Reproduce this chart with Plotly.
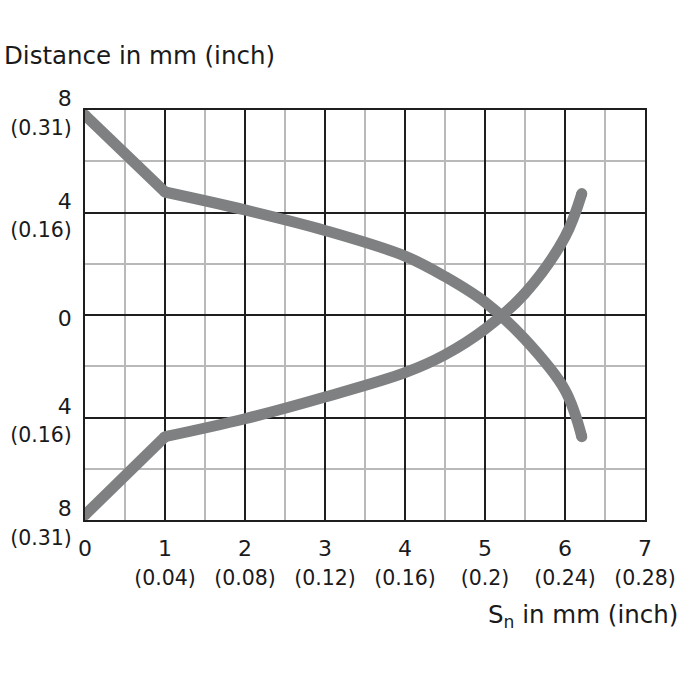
import plotly.graph_objects as go

# Data
sn_upper = [0, 1, 2, 3, 4, 4.5, 5, 5.5, 6, 6.21]
dist_upper = [7.8, 4.8, 4.1, 3.3, 2.3, 1.5, 0.5, -0.95, -2.93, -4.75]
sn_lower = [0, 1, 2, 3, 4, 4.5, 5, 5.5, 6, 6.21]
dist_lower = [-7.8, -4.75, -4.05, -3.2, -2.25, -1.55, -0.55, 0.85, 3.05, 4.74]

x_tick_vals = [0, 1, 2, 3, 4, 5, 6, 7]
x_tick_mm = ["0", "1", "2", "3", "4", "5", "6", "7"]
x_tick_inch = ["", "(0.04)", "(0.08)", "(0.12)", "(0.16)", "(0.2)", "(0.24)", "(0.28)"]
y_tick_vals = [8, 4, 0, -4, -8]
y_tick_mm = ["8", "4", "0", "4", "8"]
y_tick_inch = ["(0.31)", "(0.16)", "", "(0.16)", "(0.31)"]

FONT = "DejaVu Sans"
CURVE = "#7f8082"
TEXT = "#1a1a1a"


def label(mm, inch):
    if inch:
        return f"{mm}<br><span style='font-size:20.5px'>{inch}</span>"
    return mm


fig = go.Figure()
for xs, ys in [(sn_upper, dist_upper), (sn_lower, dist_lower)]:
    # straight first segment (sharp kink at x=1), smooth curve afterwards
    fig.add_trace(go.Scatter(x=xs[:2], y=ys[:2], mode="lines",
                             line=dict(color=CURVE, width=11),
                             hoverinfo="skip", showlegend=False))
    fig.add_trace(go.Scatter(x=xs[1:], y=ys[1:], mode="lines",
                             line=dict(color=CURVE, width=11, shape="spline", smoothing=1),
                             hoverinfo="skip", showlegend=False))
    fig.add_trace(go.Scatter(x=[xs[0], xs[1], xs[-1]], y=[ys[0], ys[1], ys[-1]], mode="markers",
                             marker=dict(color=CURVE, size=11, line=dict(width=0)),
                             hoverinfo="skip", showlegend=False))

fig.update_xaxes(
    range=[0, 7], tickmode="array", tickvals=x_tick_vals,
    ticktext=[label(a, b) for a, b in zip(x_tick_mm, x_tick_inch)],
    showgrid=True, gridcolor="#1e1e1e", gridwidth=1.6,
    minor=dict(dtick=0.5, showgrid=True, gridcolor="#b9b9b9", gridwidth=2),
    showline=True, mirror=True, linecolor="#1e1e1e", linewidth=1.6,
    zeroline=False, ticks="", ticklabelstandoff=8, automargin=False,
    tickfont=dict(family=FONT, size=22, color=TEXT),
)
fig.update_yaxes(
    range=[-8, 8], tickmode="array", tickvals=y_tick_vals,
    ticktext=[label(a, b) for a, b in zip(y_tick_mm, y_tick_inch)],
    showgrid=True, gridcolor="#1e1e1e", gridwidth=1.6,
    minor=dict(dtick=2, showgrid=True, gridcolor="#b9b9b9", gridwidth=2),
    showline=True, mirror=True, linecolor="#1e1e1e", linewidth=1.6,
    zeroline=False, ticks="", ticklabelstandoff=7, ticklabelshift=3, automargin=False,
    tickfont=dict(family=FONT, size=22, color=TEXT),
)

fig.add_annotation(text="Distance in mm (inch)", xref="paper", yref="paper",
                   x=(2 - 85) / 560, y=(520 - 55) / 410, xanchor="left", yanchor="middle",
                   showarrow=False, font=dict(family=FONT, size=24.5, color=TEXT))
fig.add_annotation(text="S<sub>n</sub> in mm (inch)", xref="paper", yref="paper",
                   x=(680 - 85) / 560, y=(520 - 616) / 410, xanchor="right", yanchor="middle",
                   showarrow=False, font=dict(family=FONT, size=24.5, color=TEXT))

fig.update_layout(
    width=680, height=680,
    margin=dict(l=85, r=35, t=110, b=160),
    paper_bgcolor="white", plot_bgcolor="white",
    font=dict(family=FONT),
)

fig.write_html("out.html")
